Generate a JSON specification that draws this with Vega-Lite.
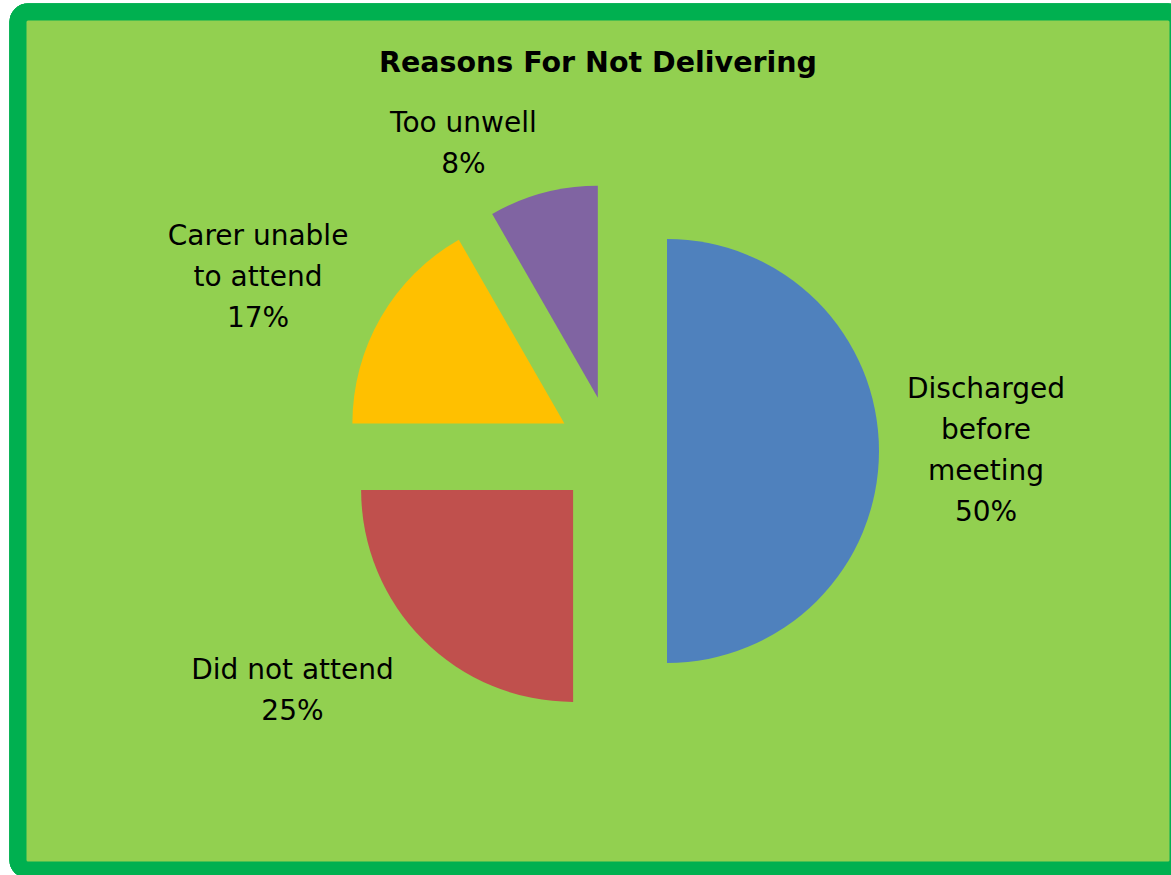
{
  "$schema": "https://vega.github.io/schema/vega-lite/v6.json",
  "autosize": {"type": "none"},
  "width": 1160,
  "height": 858,
  "padding": {"left": 18, "top": 12, "right": 0, "bottom": 8},
  "background": "#FFFFFF",
  "title": {
    "text": "Reasons For Not Delivering",
    "orient": "top",
    "anchor": "middle",
    "frame": "group",
    "font": "DejaVu Sans",
    "fontSize": 28.5,
    "fontWeight": "bold",
    "color": "#000000",
    "baseline": "alphabetic",
    "offset": -97
  },
  "config": {
    "view": {"stroke": null}
  },
  "data": {
    "values": [
      {"reason": "Discharged before meeting", "value": 50, "ord": 1, "label": "Discharged\nbefore\nmeeting\n50%"},
      {"reason": "Did not attend", "value": 25, "ord": 2, "label": "Did not attend\n25%"},
      {"reason": "Carer unable to attend", "value": 16.7, "ord": 3, "label": "Carer unable\nto attend\n17%"},
      {"reason": "Too unwell", "value": 8.3, "ord": 4, "label": "Too unwell\n8%"}
    ]
  },
  "transform": [
    {"stack": "value", "groupby": [], "sort": [{"field": "ord", "order": "ascending"}], "as": ["v0", "v1"]}
  ],
  "layer": [
    {
      "mark": {"type": "rect", "fill": "#92D050", "stroke": "#00B050", "strokeWidth": 17, "cornerRadius": 10},
      "encoding": {}
    },
    {
      "mark": {
        "type": "arc",
        "outerRadius": 212,
        "xOffset": {"expr": "14 + 55*sin(PI*(datum.v0+datum.v1)/100)"},
        "yOffset": {"expr": "10 - 55*cos(PI*(datum.v0+datum.v1)/100)"}
      },
      "encoding": {
        "theta": {"field": "v0", "type": "quantitative", "scale": {"domain": [0, 100]}},
        "theta2": {"field": "v1"},
        "color": {
          "field": "reason",
          "type": "nominal",
          "scale": {
            "domain": ["Discharged before meeting", "Did not attend", "Carer unable to attend", "Too unwell"],
            "range": ["#4F81BD", "#C0504D", "#FFC000", "#8064A2"]
          },
          "legend": null
        }
      }
    },
    {
      "mark": {
        "type": "text",
        "font": "DejaVu Sans",
        "fontSize": 28,
        "lineBreak": "\n",
        "lineHeight": 41,
        "align": "center",
        "baseline": "middle",
        "color": "#000000",
        "xOffset": 14,
        "yOffset": 10,
        "dy": {"expr": "-20.5*(length(split(datum.label, '\\n'))-1)"},
        "radius": {"expr": "datum.ord==1 ? 374 : datum.ord==2 ? 400 : datum.ord==3 ? 394 : 341"},
        "thetaOffset": {"expr": "datum.ord==2 ? 0.14 : datum.ord==3 ? -0.07 : datum.ord==4 ? -0.19 : 0"}
      },
      "encoding": {
        "theta": {"field": "value", "type": "quantitative", "stack": true, "scale": {"domain": [0, 100]}},
        "order": {"field": "ord"},
        "text": {"field": "label"}
      }
    }
  ]
}
